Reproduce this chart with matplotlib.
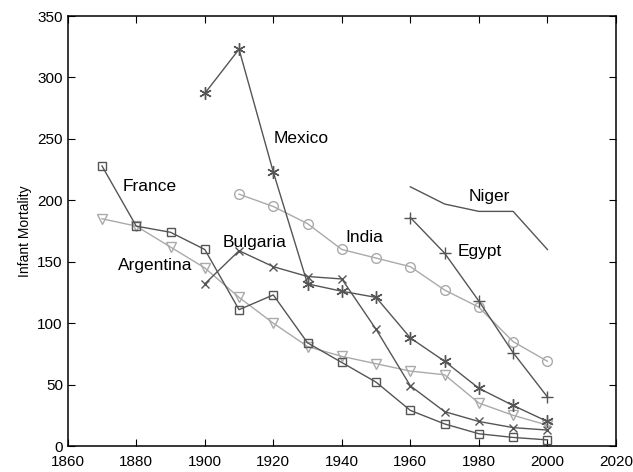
import matplotlib
matplotlib.use("Agg")
import matplotlib.pyplot as plt

plt.rcParams['font.family'] = ['Liberation Sans', 'DejaVu Sans']

years_france = [1870, 1880, 1890, 1900, 1910, 1920, 1930, 1940, 1950, 1960, 1970, 1980, 1990, 2000]
france = [228, 179, 174, 160, 111, 123, 84, 68, 52, 29, 18, 10, 7, 5]
argentina = [185, 179, 162, 145, 121, 100, 81, 73, 67, 61, 58, 35, 25, 17]

years_bulgaria = [1900, 1910, 1920, 1930, 1940, 1950, 1960, 1970, 1980, 1990, 2000]
bulgaria = [132, 159, 146, 138, 136, 95, 49, 28, 20, 15, 13]
mexico = [287, 323, 223, 132, 126, 121, 88, 69, 47, 33, 20]

years_india = [1910, 1920, 1930, 1940, 1950, 1960, 1970, 1980, 1990, 2000]
india = [205, 195, 181, 160, 153, 146, 127, 113, 85, 69]

years_late = [1960, 1970, 1980, 1990, 2000]
egypt = [186, 157, 118, 76, 40]
niger = [211, 197, 191, 191, 160]

dark = '#555555'
light = '#aaaaaa'

fig = plt.figure(figsize=(6.33, 4.72), dpi=100)
ax = fig.add_axes([0.107, 0.055, 0.866, 0.911])

ms = 7
ax.plot(years_france, argentina, color=light, marker='v', mfc='none', ms=ms, lw=1)
ax.plot(years_india, india, color=light, marker='o', mfc='none', ms=ms, lw=1)
ax.plot(years_france, france, color=dark, marker='s', mfc='none', ms=6, lw=1)
ax.plot(years_bulgaria, bulgaria, color=dark, marker='x', ms=6, lw=1)
ax.plot(years_bulgaria, mexico, color=dark, marker=(6, 2, 0), ms=9, lw=1)
ax.plot(years_late, egypt, color=dark, marker='+', ms=9, lw=1)
ax.plot(years_late, niger, color=dark, lw=1)

# country labels (centre positions in data units)
fs = 12.5
labels = [
    ('France', 1884, 211),
    ('Mexico', 1928, 250),
    ('Bulgaria', 1914.5, 166),
    ('Argentina', 1885.6, 147),
    ('India', 1946.7, 170),
    ('Egypt', 1980.3, 158),
    ('Niger', 1983, 203),
]
for name, lx, ly in labels:
    ax.text(lx, ly, name, fontsize=fs, ha='center', va='center')

ax.set_xlim(1860, 2020)
ax.set_ylim(0, 350)
ax.set_xticks(range(1860, 2021, 20))
ax.set_yticks(range(0, 351, 50))
ax.set_ylabel('Infant Mortality', fontsize=10)
ax.tick_params(direction='in', top=True, right=True, labelsize=11, length=5)
ax.tick_params(axis='x', pad=6.5)
for s in ax.spines.values():
    s.set_linewidth(1.1)

fig.savefig('out.png', dpi=100)
